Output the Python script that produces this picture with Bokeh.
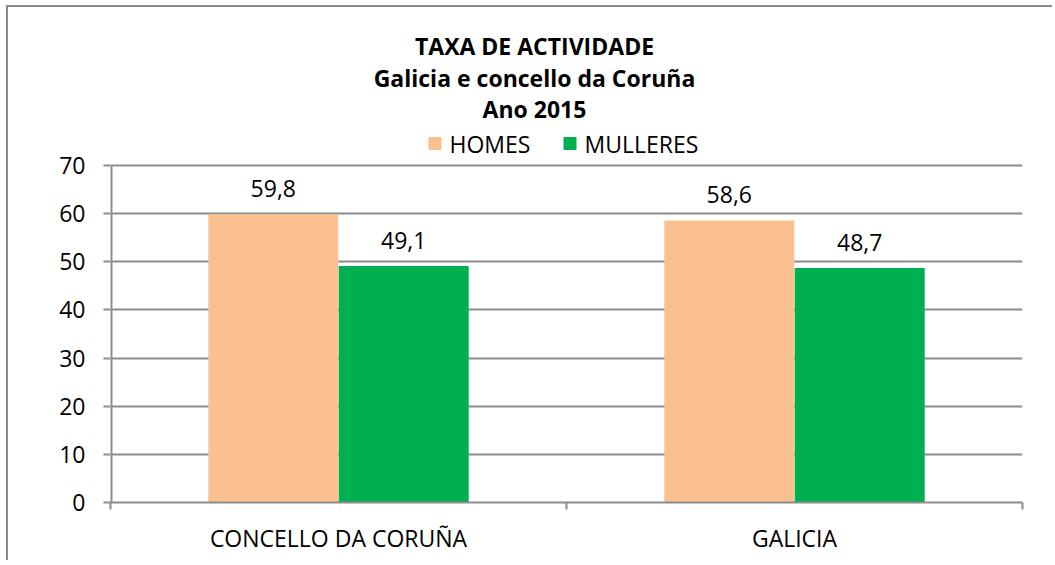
from bokeh.plotting import figure
from bokeh.models import ColumnDataSource, FixedTicker, Range1d, LabelSet, Label
from bokeh.core.properties import value
from bokeh.embed import file_html
from bokeh.resources import INLINE

categories = ["CONCELLO DA CORUÑA", "GALICIA"]
homes = [59.8, 58.6]
mulleres = [49.1, 48.7]
series_names = ["HOMES", "MULLERES"]
title_lines = ["TAXA DE ACTIVIDADE", "Galicia e concello da Coruña", "Ano 2015"]
y_ticks = [0, 10, 20, 30, 40, 50, 60, 70]

FONT = "Open Sans"
FS = "23px"
ORANGE = "#FAC090"
GREEN = "#00B050"
GRAY = "#8C8C8C"

# layout (pixels)
FRAME_W, FRAME_H = 912, 495
PX_X = FRAME_W / 2.0          # pixels per x unit
PX_Y = 337 / 70.0             # pixels per y unit (0..70 spans 337 px)
Y_TOP = FRAME_H / PX_Y

def dx(px):  # page x -> data
    return (px - 110) / PX_X

def dy(py):  # page y -> data
    return (502 - py) / PX_Y

centers = [i + 0.5 for i in range(len(categories))]
bw = 0.285
off = 0.143

src_h = ColumnDataSource(dict(x=[c - off for c in centers], top=homes,
                              lab=[f"{v:.1f}".replace(".", ",") for v in homes]))
src_m = ColumnDataSource(dict(x=[c + off for c in centers], top=mulleres,
                              lab=[f"{v:.1f}".replace(".", ",") for v in mulleres]))

p = figure(frame_width=FRAME_W, frame_height=FRAME_H, output_backend="svg", toolbar_location=None,
           x_range=Range1d(0, len(categories)), y_range=Range1d(0, Y_TOP),
           min_border_left=102, min_border_top=0, min_border_right=30, min_border_bottom=58)
p.styles = {"margin-left": "6px", "margin-top": "5px",
            "border-left": f"2px solid {GRAY}", "border-top": f"2px solid {GRAY}"}
p.outline_line_color = None
p.background_fill_color = "white"
p.border_fill_color = "white"

r1 = p.vbar(x="x", top="top", width=bw, source=src_h, fill_color=ORANGE, line_color=None)
r2 = p.vbar(x="x", top="top", width=bw, source=src_m, fill_color=GREEN, line_color=None)

for src in (src_h, src_m):
    p.add_layout(LabelSet(x="x", y="top", text="lab", source=src, text_align="center",
                          text_baseline="middle", y_offset=26, text_font=value(FONT),
                          text_font_size=FS, text_color="black"))

# y axis (line drawn manually so it stops at 70)
p.yaxis.ticker = FixedTicker(ticks=y_ticks)
p.yaxis.axis_line_color = None
p.yaxis.major_tick_line_color = GRAY
p.yaxis.major_tick_line_width = 2
p.yaxis.major_tick_out = 7
p.yaxis.major_tick_in = 0
p.yaxis.minor_tick_line_color = None
p.yaxis.major_label_text_font = FONT
p.yaxis.major_label_text_font_size = FS
p.yaxis.major_label_text_color = "black"
p.yaxis.major_label_standoff = 18
p.segment(x0=[0], y0=[0], x1=[0], y1=[max(y_ticks)], line_color=GRAY, line_width=4)

# x axis
p.xaxis.ticker = FixedTicker(ticks=centers, minor_ticks=list(range(len(categories) + 1)))
p.xaxis.major_label_overrides = {c: n for c, n in zip(centers, categories)}
p.xaxis.axis_line_color = GRAY
p.xaxis.axis_line_width = 2
p.xaxis.major_tick_line_color = None
p.xaxis.minor_tick_line_color = GRAY
p.xaxis.minor_tick_line_width = 2
p.xaxis.minor_tick_out = 7
p.xaxis.minor_tick_in = 0
p.xaxis.major_label_text_font = FONT
p.xaxis.major_label_text_font_size = FS
p.xaxis.major_label_text_color = "black"
p.xaxis.major_label_standoff = 12

p.xgrid.grid_line_color = None
p.ygrid.ticker = FixedTicker(ticks=y_ticks[1:])
p.ygrid.grid_line_color = GRAY
p.ygrid.grid_line_width = 2

# titles
for line, ypix in zip(title_lines, [45, 77, 108]):
    p.add_layout(Label(x=dx(534), y=dy(ypix), text=line, text_align="center",
                       text_baseline="middle", text_font=FONT, text_font_size=FS,
                       text_font_style="bold", text_color="black"))

# legend (drawn in frame)
leg_sq_x = [dx(434.5), dx(569.5)]
leg_txt_x = [dx(449), dx(584)]
leg_y = dy(143)
p.scatter(x=leg_sq_x, y=[leg_y, leg_y], marker="square", size=13,
          fill_color=[ORANGE, GREEN], line_color=None)
for name, xt in zip(series_names, leg_txt_x):
    p.add_layout(Label(x=xt, y=leg_y, text=name, text_align="left", text_baseline="middle",
                       text_font=FONT, text_font_size=FS, text_color="black"))

open("out.html", "w").write(file_html(p, INLINE))
